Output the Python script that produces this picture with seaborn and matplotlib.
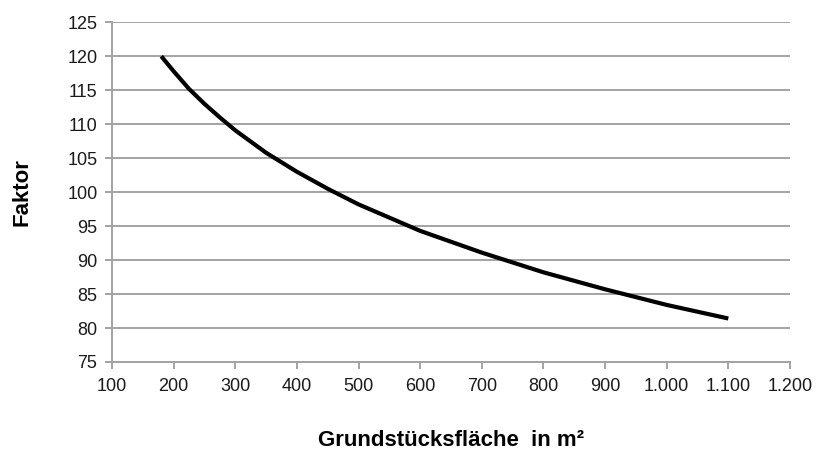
import matplotlib
matplotlib.use("Agg")
import matplotlib.pyplot as plt
import seaborn as sns
import pandas as pd
from matplotlib.ticker import FuncFormatter, MultipleLocator

# Data
flaeche = [180, 200, 225, 250, 275, 300, 350, 400, 450, 500,
           600, 700, 800, 900, 1000, 1100]
faktor = [120.0, 117.8, 115.2, 113.0, 111.0, 109.1, 105.8, 103.0, 100.5, 98.2,
          94.3, 91.1, 88.2, 85.7, 83.4, 81.4]

x_label = "Grundstücksfläche  in m²"
y_label = "Faktor"

sns.set_theme(style="white")
plt.rcParams["font.family"] = ["Liberation Sans", "DejaVu Sans"]

df = pd.DataFrame({"Fläche": flaeche, "Faktor": faktor})

fig = plt.figure(figsize=(8.21, 4.5), dpi=100)
ax = fig.add_axes([0.1364, 0.1956, 0.9622 - 0.1364, 0.9504 - 0.1956])

sns.lineplot(data=df, x="Fläche", y="Faktor", ax=ax, color="black",
             linewidth=3.0, solid_capstyle="butt", solid_joinstyle="round")

ax.set_xlim(100, 1200)
ax.set_ylim(75, 125)
ax.xaxis.set_major_locator(MultipleLocator(100))
ax.yaxis.set_major_locator(MultipleLocator(5))

def de_fmt(v, pos):
    return f"{int(round(v)):,}".replace(",", ".")

ax.xaxis.set_major_formatter(FuncFormatter(de_fmt))
ax.yaxis.set_major_formatter(FuncFormatter(lambda v, p: f"{int(round(v))}"))

grid_col = "#A3A3A3"
ax.yaxis.grid(True, color=grid_col, linewidth=1.4)
ax.xaxis.grid(False)
ax.set_axisbelow(True)

for s in ["top", "right"]:
    ax.spines[s].set_visible(False)
for s in ["left", "bottom"]:
    ax.spines[s].set_color(grid_col)
    ax.spines[s].set_linewidth(1.4)

ax.tick_params(axis="both", which="major", direction="out", length=5,
               width=1.4, color=grid_col, labelsize=13, labelcolor="#1a1a1a",
               bottom=True, left=True)
ax.tick_params(axis="x", pad=6.5)
ax.tick_params(axis="y", pad=5.5)

ax.set_xlabel(x_label, fontsize=16, fontweight="bold", color="black",
              va="baseline")
ax.xaxis.set_label_coords(0.5, -0.247)
ax.set_ylabel(y_label, fontsize=16, fontweight="bold", color="black",
              va="center")
ax.yaxis.set_label_coords(-0.1327, 0.5)

fig.savefig("out.png", dpi=100, facecolor="white")
